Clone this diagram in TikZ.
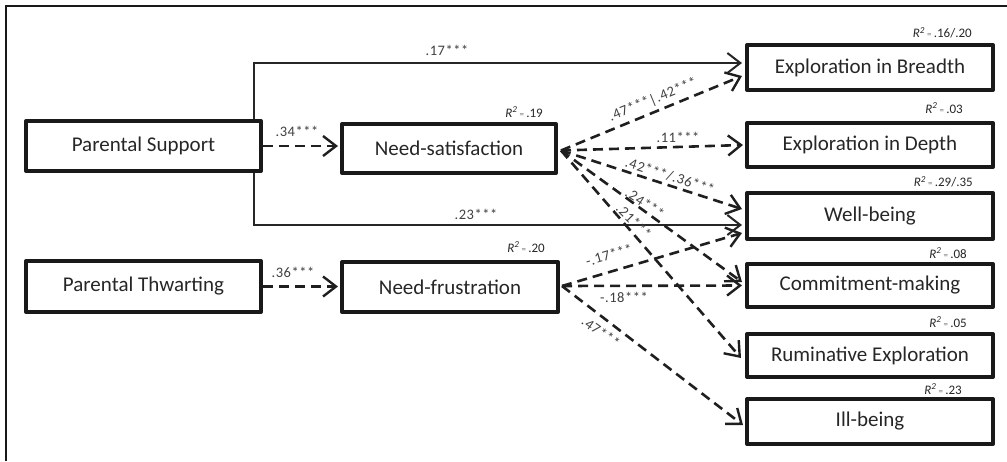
\documentclass[tikz,border=0pt]{standalone}
\usepackage{fontspec}
\setmainfont{Carlito}
\usetikzlibrary{arrows.meta,calc}
\newcommand\rsqtext[1]{\textit{R}\textsuperscript{\textit{2}}\,{\color{black!55}\fontsize{9}{9}\selectfont=}\,#1}
\begin{document}
\begin{tikzpicture}[x=1pt,y=-1pt,
 box/.style={draw=black!90, line width=4pt, line join=round, inner sep=0pt, minimum height=45pt, minimum width=246pt, font=\fontsize{21}{24}\selectfont, text=black!85},
 dline/.style={draw=black!88, line width=2.6pt, dash pattern=on 10pt off 6pt, -{Straight Barb[length=13pt,width=20pt,line width=2.4pt]}},
 sline/.style={draw=black!85, line width=1.6pt, -{Straight Barb[length=13pt,width=20pt,line width=2pt]}},
 lab/.style={font=\fontsize{14.5}{16}\selectfont\addfontfeatures{LetterSpace=4}, text=black!75, inner sep=0pt},
 rsq/.style={font=\fontsize{13}{14}\selectfont, anchor=east, inner sep=0pt, text=black!85}]
\useasboundingbox (0,0) rectangle (1007,461);
\draw[line width=2pt, black!90] (6,461) -- (6,6) -- (1007,6);
% nodes
\node[box, minimum width=235pt, minimum height=50pt] (ps) at (143.5,146) {Parental Support};
\node[box, minimum width=214pt, minimum height=49pt] (ns) at (449,148.5) {Need-satisfaction};
\node[box, minimum width=235pt, minimum height=51pt] (pt) at (143.5,286.5) {Parental Thwarting};
\node[box, minimum width=216pt, minimum height=50pt] (nf) at (450,287) {Need-frustration};
\node[box, minimum height=45pt] (eb) at (870,67.5) {Exploration in Breadth};
\node[box, minimum height=44pt] (ed) at (870,145) {Exploration in Depth};
\node[box, minimum height=46pt] (wb) at (870,216) {Well-being};
\node[box, minimum height=43pt] (cm) at (870,285.5) {Commitment-making};
\node[box, minimum height=43pt] (re) at (870,355.5) {Ruminative Exploration};
\node[box, minimum height=45pt] (ib) at (870,421.5) {Ill-being};
% R squared
\node[rsq] (rns) at (543,112) {\rsqtext{.19}};
\node[rsq] (rnf) at (545,247) {\rsqtext{.20}};
\node[rsq] (reb) at (972,33) {\rsqtext{.16/.20}};
\node[rsq] (red) at (963,108) {\rsqtext{.03}};
\node[rsq] (rwb) at (973,182) {\rsqtext{.29/.35}};
\node[rsq] (rcm) at (967,253) {\rsqtext{.08}};
\node[rsq] (rre) at (967,322) {\rsqtext{.05}};
\node[rsq] (rib) at (962,389) {\rsqtext{.23}};
% start points
\coordinate (nsx) at ([xshift=3pt,yshift=-2pt]ns.east);
\coordinate (nfx) at ([xshift=2pt,yshift=1pt]nf.east);
% solid paths
\draw[sline] ([xshift=-9pt]ps.north east) |- ([xshift=-3pt,yshift=4.5pt]eb.west);
\draw[sline] ([xshift=-9pt]ps.south east) |- ([xshift=-3pt,yshift=-9pt]wb.west);
% dashed paths
\draw[dline] (ps.east) -- ([xshift=-2pt]ps.east -| ns.west);
\draw[dline] (pt.east) -- ([xshift=-2pt]pt.east -| nf.west);
\draw[dline] (nsx) -- ([xshift=-3pt,yshift=-8.5pt]eb.west);
\draw[dline] (nsx) -- ([xshift=-2pt]ed.west);
\draw[dline] (nsx) -- ([xshift=-3pt,yshift=7pt]wb.west);
\draw[dline] (nsx) -- ([xshift=-3pt,yshift=3.5pt]cm.west);
\draw[dline] (nsx) -- ([xshift=-4pt,yshift=-2.5pt]re.west);
\draw[dline] (nfx) -- ([xshift=-3pt,yshift=-17pt]wb.west);
\draw[dline] (nfx) -- ([xshift=-3pt]cm.west);
\draw[dline] (nfx) -- ([xshift=-2pt,yshift=-3.5pt]ib.west);
% labels
\node[lab] (l1) at (447,50) {.17***};
\node[lab] (l2) at (476,214) {.23***};
\node[lab] (l3) at (297,131) {.34***};
\node[lab] (l4) at (293,272) {.36***};
\node[lab, rotate=22.4] (l5) at (653,100) {.47***|.42***};
\node[lab] (l6) at (678,137) {.11***};
\node[lab, rotate=-17.7] (l7) at (670,176) {.42***/.36***};
\node[lab, rotate=-33] (l8) at (645,203) {.24***};
\node[lab, rotate=-45] (l9) at (634,221) {.21***};
\node[lab, rotate=16] (l10) at (609,255) {-.17***};
\node[lab] (l11) at (624,297) {-.18***};
\node[lab, rotate=-35] (l12) at (601,332) {.47***};
\end{tikzpicture}
\end{document}
